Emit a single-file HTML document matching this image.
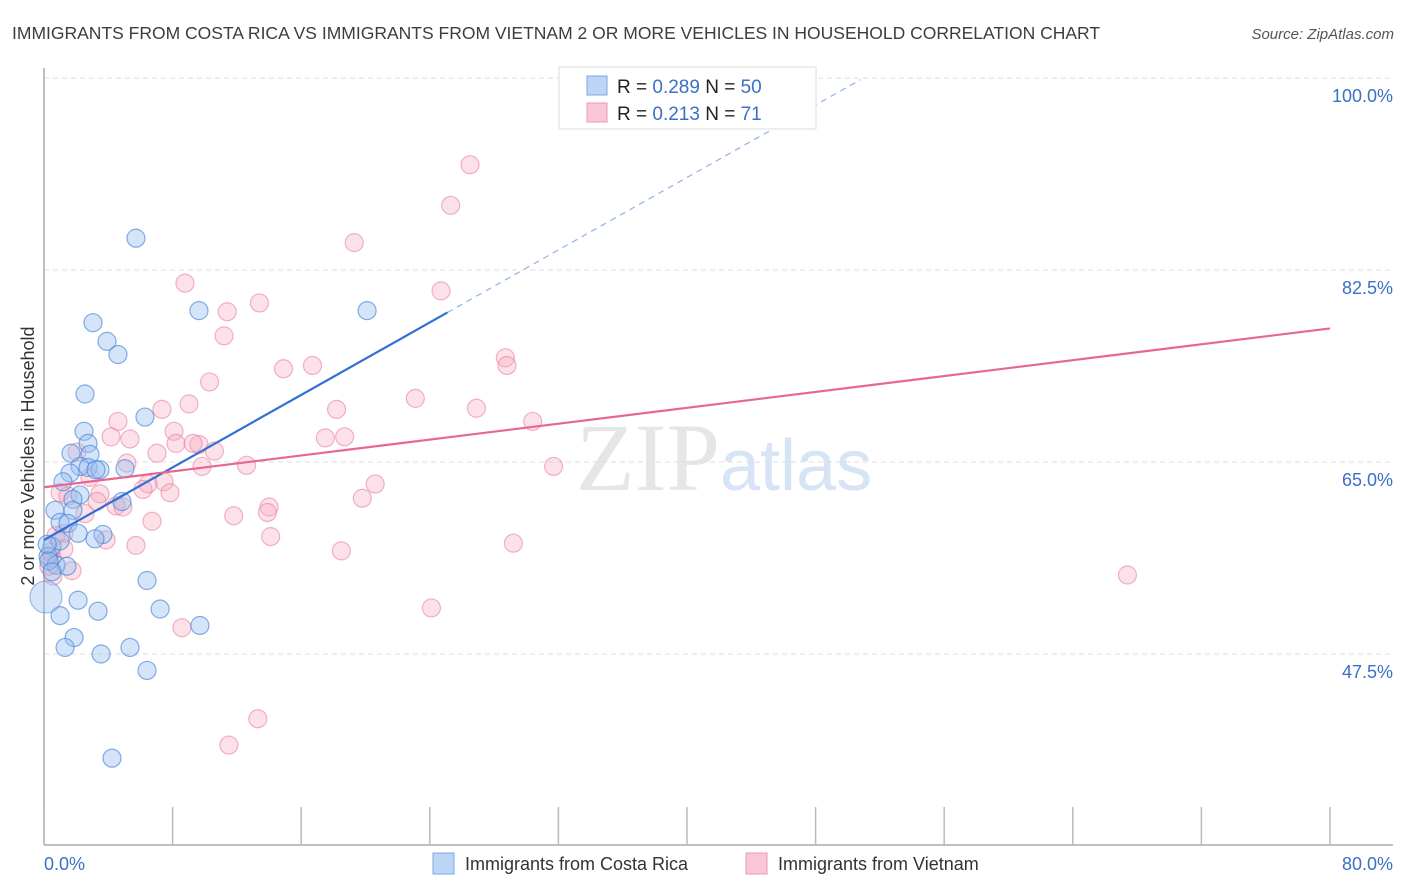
<!DOCTYPE html>
<html><head><meta charset="utf-8"><style>
body{margin:0;background:#fff;font-family:"Liberation Sans",sans-serif;}
svg{display:block}
</style></head><body>
<svg id="chart" width="1406" height="892" xmlns="http://www.w3.org/2000/svg">
<text x="12" y="39" font-size="17.5" fill="#3d3d3d">IMMIGRANTS FROM COSTA RICA VS IMMIGRANTS FROM VIETNAM 2 OR MORE VEHICLES IN HOUSEHOLD CORRELATION CHART</text>
<text x="1394" y="39" font-size="15" fill="#555" font-style="italic" text-anchor="end">Source: ZipAtlas.com</text>
<text x="720" y="490" font-size="96" fill="#e6e6e6" text-anchor="end" font-family="Liberation Serif, serif">ZIP</text>
<text x="720" y="490" font-size="72" fill="#d6e4f5">atlas</text>
<g id="grid"></g>
<g id="axes"></g>
<g id="points"></g>
<g id="lines"></g>
<text transform="translate(34,456) rotate(-90)" font-size="18" fill="#333" text-anchor="middle">2 or more Vehicles in Household</text>
<g>
<rect x="559" y="67" width="257" height="62" fill="#fff" stroke="#ddd"/>
<rect x="587" y="76" width="20" height="19" fill="#bcd5f5" stroke="#7aa7e6"/>
<rect x="587" y="103" width="20" height="19" fill="#f9c6d5" stroke="#ee9ab3"/>
<text x="617" y="93" font-size="19" fill="#222">R = <tspan fill="#3a70c8">0.289</tspan>   N = <tspan fill="#3a70c8">50</tspan></text>
<text x="617" y="120" font-size="19" fill="#222">R =  <tspan fill="#3a70c8">0.213</tspan>   N =  <tspan fill="#3a70c8">71</tspan></text>
</g>
<g>
<rect x="433" y="853" width="21" height="21" fill="#bcd5f5" stroke="#7aa7e6"/>
<text x="465" y="870" font-size="18" fill="#333">Immigrants from Costa Rica</text>
<rect x="746" y="853" width="21" height="21" fill="#f9c6d5" stroke="#ee9ab3"/>
<text x="778" y="870" font-size="18" fill="#333">Immigrants from Vietnam</text>
</g>
</svg>
<script>
const blueX=[5.72,9.64,20.1,3.05,3.92,4.60,2.55,6.28,2.49,2.74,1.68,2.86,2.24,2.74,3.48,5.04,3.23,1.62,1.18,2.24,1.80,4.85,0.68,1.80,1.00,1.49,2.12,3.67,3.17,0.50,0.25,0.75,1.43,6.41,2.12,7.22,3.36,1.00,9.70,1.87,1.31,5.35,3.55,6.41,4.23,0.3,0.5,1.0,0.2];
const blueY=[85.4,78.8,78.8,77.7,76.0,74.8,71.2,69.1,67.8,66.7,65.8,65.7,64.6,64.5,64.3,64.4,64.3,64.0,63.2,62.0,61.6,61.4,60.6,60.6,59.5,59.4,58.5,58.4,58.0,57.3,56.4,55.6,55.5,54.2,52.4,51.6,51.4,51.0,50.1,49.0,48.1,48.1,47.5,46.0,38.0,56.0,55.0,57.8,57.5];
const bigX=[0.12], bigY=[52.7];
const pinkX=[26.5,25.3,19.3,8.77,24.7,13.4,11.4,11.2,28.7,28.8,16.7,14.9,10.3,23.1,9.02,7.34,26.9,18.2,4.60,30.4,8.09,4.17,5.35,17.5,18.7,8.21,9.64,9.27,10.6,7.03,2.05,5.16,12.6,9.83,31.7,2.86,7.47,6.47,20.6,6.16,7.84,1.00,3.48,1.49,19.8,3.30,4.48,4.91,14.0,2.55,13.9,11.8,6.72,1.24,0.75,14.1,3.86,5.72,29.2,1.24,18.5,0.50,1.74,0.56,67.4,24.1,8.58,13.3,11.5,0.4,0.3];
const pinkY=[92.1,88.4,85.0,81.3,80.6,79.5,78.7,76.5,74.5,73.8,73.8,73.5,72.3,70.8,70.3,69.8,69.9,69.8,68.7,68.7,67.8,67.3,67.1,67.2,67.3,66.7,66.6,66.7,66.0,65.8,65.9,64.9,64.7,64.6,64.6,63.6,63.2,63.0,63.0,62.5,62.2,62.2,62.1,61.9,61.7,61.4,61.0,60.9,60.9,60.3,60.4,60.1,59.6,58.5,58.3,58.2,57.9,57.4,57.6,57.1,56.9,56.3,55.1,54.6,54.7,51.7,49.9,41.6,39.2,56.8,55.5];
const blueFit=[57.9,0.826], pinkFit=[62.7,0.181];
const yTicks=[100,82.5,65,47.5];
const xTickVals=[0,8,16,24,32,40,48,56,64,72,80];
const NS="http://www.w3.org/2000/svg";
const X=v=>44+v*(1286/80);
const Y=v=>654-(v-47.5)*10.97;
function mk(tag,attrs,parent){const e=document.createElementNS(NS,tag);for(const k in attrs)e.setAttribute(k,attrs[k]);document.getElementById(parent).appendChild(e);return e;}
yTicks.forEach(t=>{
  const l=mk('line',{x1:44,x2:1393,y1:Y(t),y2:Y(t),stroke:'#ddd','stroke-dasharray':'5,4'},'grid');
  
  
  const tx=mk('text',{x:1393,y:Y(t)+24,'font-size':18,fill:'#3a70c8','text-anchor':'end'},'grid');
  tx.textContent=t.toFixed(1)+'%';
  
  
});
const ya=mk('line',{x1:44,x2:44,y1:68,y2:845,stroke:'#aaa','stroke-width':1.5},'axes');


const xa=mk('line',{x1:44,x2:1393,y1:845,y2:845,stroke:'#aaa','stroke-width':1.5},'axes');


xTickVals.forEach(v=>{
  const t=mk('line',{x1:X(v),x2:X(v),y1:807,y2:845,stroke:'#bbb','stroke-width':1.5},'axes');
  
  
});
const xl0=mk('text',{x:44,y:870,'font-size':18,fill:'#3a70c8'},'axes');xl0.textContent='0.0%';


const xl1=mk('text',{x:1393,y:870,'font-size':18,fill:'#3a70c8','text-anchor':'end'},'axes');xl1.textContent='80.0%';


pinkX.forEach((v,i)=>{
  const c=mk('circle',{cx:X(v),cy:Y(pinkY[i]),r:9,fill:'rgba(246,168,192,0.35)',stroke:'rgba(232,130,160,0.6)','stroke-width':1.2},'points');
  
  
});
blueX.forEach((v,i)=>{
  const c=mk('circle',{cx:X(v),cy:Y(blueY[i]),r:9,fill:'rgba(150,190,240,0.4)',stroke:'rgba(70,130,215,0.65)','stroke-width':1.2},'points');
  
  
});
bigX.forEach((v,i)=>{
  const c=mk('circle',{cx:X(v),cy:Y(bigY[i]),r:16,fill:'rgba(150,190,240,0.4)',stroke:'rgba(70,130,215,0.5)','stroke-width':1.2},'points');
  
  
});
const bEnd=25.1, bDash=50.8;
const bl=mk('line',{x1:X(0),y1:Y(blueFit[0]),x2:X(bEnd),y2:Y(blueFit[0]+blueFit[1]*bEnd),stroke:'#2f6fd6','stroke-width':2.2},'lines');


const bd=mk('line',{x1:X(bEnd),y1:Y(blueFit[0]+blueFit[1]*bEnd),x2:X(bDash),y2:Y(blueFit[0]+blueFit[1]*bDash),stroke:'#8fb2e8','stroke-width':1.2,'stroke-dasharray':'6,5'},'lines');


const pl=mk('line',{x1:X(0),y1:Y(pinkFit[0]),x2:X(80),y2:Y(pinkFit[0]+pinkFit[1]*80),stroke:'#e8678f','stroke-width':2.2},'lines');


</script>
</body></html>
